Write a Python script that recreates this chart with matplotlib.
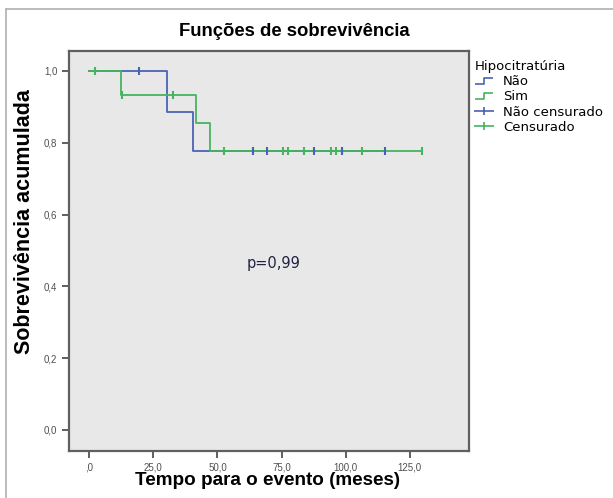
import numpy as np
import matplotlib.pyplot as plt
from matplotlib.lines import Line2D
from matplotlib.path import Path
from matplotlib.ticker import FuncFormatter

# Kaplan-Meier steps
nao_tempo = [0, 30.5, 40.5, 115.2]
nao_surv = [1.0, 0.887, 0.778, 0.778]
nao_cens_t = [19.5, 63.7, 69.4, 87.7, 98.6, 115.2]
nao_cens_s = [1.0, 0.778, 0.778, 0.778, 0.778, 0.778]

sim_tempo = [0, 12.4, 41.8, 47.0, 129.8]
sim_surv = [1.0, 0.934, 0.856, 0.778, 0.778]
sim_cens_t = [2.2, 12.6, 32.7, 52.5, 63.7, 75.7, 77.6, 83.7, 94.1, 96.4, 98.6, 106.5, 129.8]
sim_cens_s = [1.0, 0.934, 0.934, 0.778, 0.778, 0.778, 0.778, 0.778, 0.778, 0.778, 0.778, 0.778, 0.778]

x_ticks = [0, 25, 50, 75, 100, 125]
y_ticks = [0.0, 0.2, 0.4, 0.6, 0.8, 1.0]
legenda = ['Não', 'Sim', 'Não censurado', 'Censurado']

azul = '#4a62b4'
verde = '#45b45e'

plt.rcParams['font.family'] = ['Liberation Sans', 'DejaVu Sans']

fig = plt.figure(figsize=(6.13, 4.98), dpi=100)
ax = fig.add_axes([0.1126, 0.0944, 0.653, 0.8032])
ax.set_facecolor('#e8e8e8')

ax.step(nao_tempo, nao_surv, where='post', color=azul, lw=1.3)
ax.step(sim_tempo, sim_surv, where='post', color=verde, lw=1.3)
ax.plot(sim_cens_t, sim_cens_s, '|', color=verde, ms=6, mew=1.5)
ax.plot(nao_cens_t, nao_cens_s, '|', color=azul, ms=6, mew=1.5)

ax.set_xlim(-7.9, 148.2)
ax.set_ylim(-0.0585, 1.0557)
ax.set_xticks(x_ticks)
ax.set_yticks(y_ticks)
ax.yaxis.set_major_formatter(FuncFormatter(lambda v, p: ('%.1f' % v).replace('.', ',')))
ax.xaxis.set_major_formatter(FuncFormatter(lambda v, p: ',0' if v == 0 else ('%.1f' % v).replace('.', ',')))
ax.tick_params(length=5, width=1.2, color='#444444', labelsize=7, labelcolor='#505050')
for sp in ax.spines.values():
    sp.set_color('#606060')
    sp.set_linewidth(1.6)

ax.text(72, 0.465, 'p=0,99', fontsize=10.5, family='DejaVu Sans', color='#222244',
        ha='center', va='center')

fig.text(294 / 613, 1 - 32 / 498, 'Funções de sobrevivência', fontsize=13.3, fontweight='bold',
         ha='center', va='center')
fig.text(267.5 / 613, 1 - 480 / 498, 'Tempo para o evento (meses)', fontsize=13.6, fontweight='bold',
         ha='center', va='center')
fig.text(25 / 613, 1 - 222 / 498, 'Sobrevivência acumulada', fontsize=15.5, fontweight='bold',
         ha='center', va='center', rotation=90)

# legend with step-shaped and wide plus handles
degrau = Path([(-1, -0.3), (0, -0.3), (0, 0.3), (1, 0.3)],
              [Path.MOVETO, Path.LINETO, Path.LINETO, Path.LINETO])
mais = Path([(-1, 0), (1, 0), (0, -0.4), (0, 0.4)],
            [Path.MOVETO, Path.LINETO, Path.MOVETO, Path.LINETO])
handles = [
    Line2D([], [], ls='none', marker=degrau, ms=13.5, mfc='none', mec=azul, mew=1.2),
    Line2D([], [], ls='none', marker=degrau, ms=13.5, mfc='none', mec=verde, mew=1.2),
    Line2D([], [], ls='none', marker=mais, ms=14, mfc='none', mec=azul, mew=1.2),
    Line2D([], [], ls='none', marker=mais, ms=14, mfc='none', mec=verde, mew=1.2),
]
leg = fig.legend(handles, legenda, title='Hipocitratúria', loc='upper left',
                 bbox_to_anchor=(475 / 613, 1 - 60 / 498), frameon=False,
                 prop={'family': 'DejaVu Sans', 'size': 9.5},
                 title_fontproperties={'family': 'DejaVu Sans', 'size': 9.5},
                 handlelength=1.36, handleheight=0.7, handletextpad=0.75, labelspacing=0.17,
                 borderaxespad=0, borderpad=0, alignment='left')

# thin gray frame of the picture
fig.add_artist(Line2D([6 / 613, 6 / 613], [0, 1 - 9 / 498], color='#b0b0b0', lw=1.2))
fig.add_artist(Line2D([6 / 613, 1], [1 - 9 / 498, 1 - 9 / 498], color='#b0b0b0', lw=1.2))

fig.savefig('out.png', dpi=100)
